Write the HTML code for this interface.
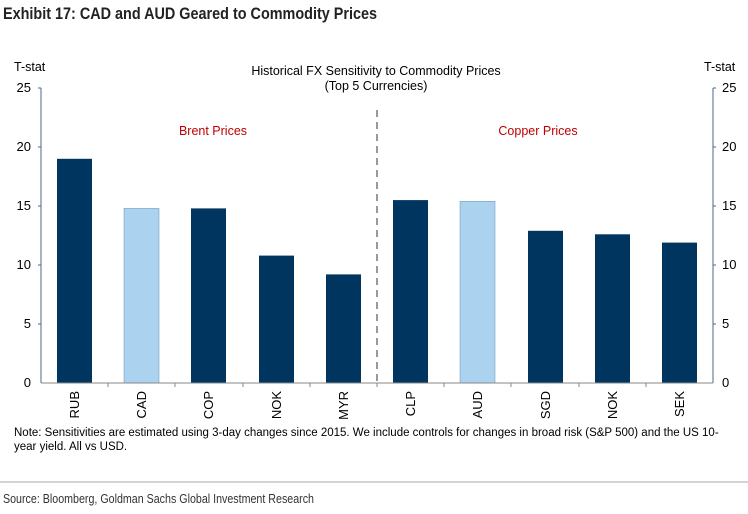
<!DOCTYPE html>
<html><head><style>
body{margin:0;background:#fff;width:748px;height:509px;overflow:hidden}
svg text{font-family:"Liberation Sans",Arial,sans-serif}
</style></head><body>
<svg width="748" height="509" viewBox="0 0 748 509" xmlns="http://www.w3.org/2000/svg">
<text x="3" y="19" font-size="17" font-weight="bold" fill="#222" textLength="374" lengthAdjust="spacingAndGlyphs">Exhibit 17: CAD and AUD Geared to Commodity Prices</text>
<text x="14" y="71" font-size="12.5" fill="#000">T-stat</text>
<text x="704" y="71" font-size="12.5" fill="#000">T-stat</text>
<text x="376" y="75" font-size="12.5" text-anchor="middle">Historical FX Sensitivity to Commodity Prices</text>
<text x="376" y="90" font-size="12.5" text-anchor="middle">(Top 5 Currencies)</text>
<text x="213" y="135" font-size="12.5" fill="#c00000" text-anchor="middle">Brent Prices</text>
<text x="538" y="135" font-size="12.5" fill="#c00000" text-anchor="middle">Copper Prices</text>
<g font-size="13" fill="#000">
<text x="31" y="92" text-anchor="end">25</text><text x="31" y="151" text-anchor="end">20</text><text x="31" y="210" text-anchor="end">15</text><text x="31" y="269" text-anchor="end">10</text><text x="31" y="328" text-anchor="end">5</text><text x="31" y="387" text-anchor="end">0</text>
<text x="722" y="92">25</text><text x="722" y="151">20</text><text x="722" y="210">15</text><text x="722" y="269">10</text><text x="722" y="328">5</text><text x="722" y="387">0</text>
</g>
<g stroke="#4a6a8a" stroke-width="1">
<line x1="41" y1="88" x2="41" y2="383"/><line x1="713" y1="88" x2="713" y2="383"/>
<line x1="38" y1="88" x2="41" y2="88"/><line x1="38" y1="147" x2="41" y2="147"/><line x1="38" y1="206" x2="41" y2="206"/><line x1="38" y1="265" x2="41" y2="265"/><line x1="38" y1="324" x2="41" y2="324"/>
<line x1="713" y1="88" x2="716" y2="88"/><line x1="713" y1="147" x2="716" y2="147"/><line x1="713" y1="206" x2="716" y2="206"/><line x1="713" y1="265" x2="716" y2="265"/><line x1="713" y1="324" x2="716" y2="324"/>
</g>
<line x1="377" y1="110" x2="377" y2="383" stroke="#999" stroke-width="2" stroke-dasharray="7,5"/>
<g>
<rect x="57" y="158.8" width="35" height="224.2" fill="#003560"/>
<rect x="124" y="208.4" width="35" height="174.6" fill="#abd2ef" stroke="#6a8fb0" stroke-width="0.5"/>
<rect x="191" y="208.4" width="35" height="174.6" fill="#003560"/>
<rect x="259" y="255.6" width="35" height="127.4" fill="#003560"/>
<rect x="326" y="274.4" width="35" height="108.6" fill="#003560"/>
<rect x="393" y="200.1" width="35" height="182.9" fill="#003560"/>
<rect x="460" y="201.3" width="35" height="181.7" fill="#abd2ef" stroke="#6a8fb0" stroke-width="0.5"/>
<rect x="528" y="230.8" width="35" height="152.2" fill="#003560"/>
<rect x="595" y="234.3" width="35" height="148.7" fill="#003560"/>
<rect x="662" y="242.6" width="35" height="140.4" fill="#003560"/>
</g>
<g stroke="#888" stroke-width="1">
<line x1="41" y1="383" x2="713" y2="383"/>
<line x1="108" y1="383" x2="108" y2="387"/><line x1="175" y1="383" x2="175" y2="387"/><line x1="243" y1="383" x2="243" y2="387"/><line x1="310" y1="383" x2="310" y2="387"/><line x1="377" y1="383" x2="377" y2="387"/><line x1="444" y1="383" x2="444" y2="387"/><line x1="511" y1="383" x2="511" y2="387"/><line x1="579" y1="383" x2="579" y2="387"/><line x1="646" y1="383" x2="646" y2="387"/>
</g>
<g font-size="13" fill="#000">
<text transform="translate(79,391) rotate(-90)" text-anchor="end">RUB</text>
<text transform="translate(146,391) rotate(-90)" text-anchor="end">CAD</text>
<text transform="translate(213,391) rotate(-90)" text-anchor="end">COP</text>
<text transform="translate(281,391) rotate(-90)" text-anchor="end">NOK</text>
<text transform="translate(348,391) rotate(-90)" text-anchor="end">MYR</text>
<text transform="translate(415,391) rotate(-90)" text-anchor="end">CLP</text>
<text transform="translate(482,391) rotate(-90)" text-anchor="end">AUD</text>
<text transform="translate(550,391) rotate(-90)" text-anchor="end">SGD</text>
<text transform="translate(617,391) rotate(-90)" text-anchor="end">NOK</text>
<text transform="translate(684,391) rotate(-90)" text-anchor="end">SEK</text>
</g>
<text x="14" y="436" font-size="11.5">Note: Sensitivities are estimated using 3-day changes since 2015. We include controls for changes in broad risk (S&amp;P 500) and the US 10-</text>
<text x="14" y="450" font-size="11.5">year yield. All vs USD.</text>
<line x1="0" y1="482" x2="748" y2="482" stroke="#aaa" stroke-width="1"/>
<text x="3" y="503" font-size="12.5" fill="#333" textLength="311" lengthAdjust="spacingAndGlyphs">Source: Bloomberg, Goldman Sachs Global Investment Research</text>
</svg>
</body></html>
